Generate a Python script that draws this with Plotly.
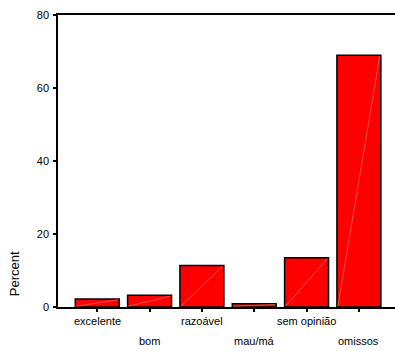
import plotly.graph_objects as go

categories = ["excelente", "bom", "razoável", "mau/má", "sem opinião", "omissos"]
percent = [2.2, 3.2, 11.4, 0.9, 13.5, 69.0]
y_ticks = [0, 20, 40, 60, 80]

xs = list(range(len(categories)))
fig = go.Figure()
fig.add_trace(go.Bar(
    x=xs, y=percent, width=0.84,
    marker=dict(color="#ff0000", line=dict(color="black", width=1.5)),
    hoverinfo="skip",
))
# faint diagonal artefact inside each bar
for i, v in enumerate(percent):
    fig.add_trace(go.Scatter(
        x=[i - 0.4, i + 0.4], y=[0.2, v - 0.2], mode="lines",
        line=dict(color="rgba(255,160,160,0.7)", width=0.7),
        hoverinfo="skip", showlegend=False,
    ))

for i, c in enumerate(categories):
    fig.add_annotation(
        x=i, xref="x", y=-0.022 if i % 2 == 0 else -0.089, yref="paper",
        text=c, showarrow=False, yanchor="top",
        font=dict(family="Liberation Sans, Arial", size=11, color="black"),
    )

fig.add_annotation(
    x=-0.13, xref="paper", y=0.113, yref="paper", text="Percent",
    textangle=-90, showarrow=False, xanchor="center", yanchor="middle",
    font=dict(family="Liberation Sans, Arial", size=13, color="black"),
)

fig.update_layout(
    width=395, height=351,
    margin=dict(l=58, r=0, t=15, b=44),
    paper_bgcolor="white", plot_bgcolor="white",
    showlegend=False, bargap=0.16,
    font=dict(family="Liberation Sans, Arial", size=11, color="black"),
)
fig.update_xaxes(
    range=[-0.75, 5.69], tickvals=xs, showticklabels=False,
    ticks="outside", ticklen=3, tickwidth=2, tickcolor="black",
    showline=True, linecolor="black", linewidth=1.5, mirror=True,
    showgrid=False, zeroline=False,
)
fig.update_yaxes(
    range=[0, 80], tickvals=y_ticks, ticks="outside", ticklen=3, tickwidth=2,
    tickcolor="black", showline=True, linecolor="black", linewidth=1.5,
    showgrid=False, zeroline=False, ticklabelstandoff=2,
)
fig.write_html("out.html", config={"displayModeBar": False},
               post_script="document.body.style.margin='0px';")
